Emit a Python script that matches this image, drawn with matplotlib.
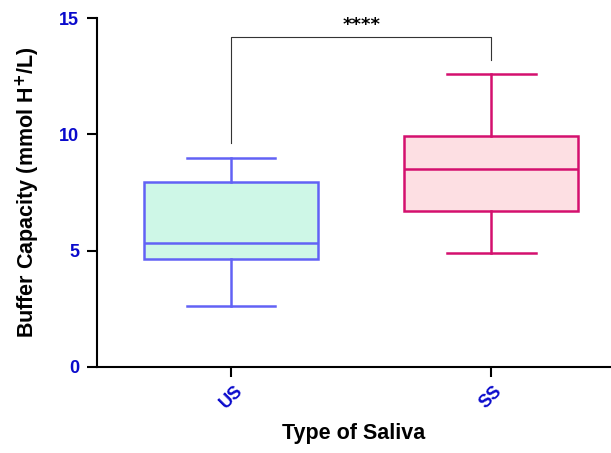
import matplotlib
matplotlib.use("Agg")
import matplotlib.pyplot as plt

plt.rcParams["font.family"] = ["Liberation Sans", "DejaVu Sans"]

# Data (box summaries)
groups = ["US", "SS"]
whislo = [2.6, 4.9]
q1 = [4.65, 6.7]
medians = [5.35, 8.5]
q3 = [7.95, 9.93]
whishi = [9.0, 12.6]

edge_colors = ["#6262F5", "#D4106E"]
face_colors = ["#CEF7E7", "#FDDFE3"]
tick_color = "#0A0ACC"

fig = plt.figure(figsize=(6.11, 4.53), dpi=100)
ax = fig.add_axes([0.159, 0.19, 0.841, 0.77])

stats = []
for i, g in enumerate(groups):
    stats.append({"label": g, "whislo": whislo[i], "q1": q1[i], "med": medians[i],
                  "q3": q3[i], "whishi": whishi[i], "fliers": []})

positions = [1, 2]
for i in range(len(groups)):
    c = edge_colors[i]
    ax.bxp([stats[i]], positions=[positions[i]], widths=0.67, patch_artist=True,
           showfliers=False,
           boxprops=dict(facecolor=face_colors[i], edgecolor=c, linewidth=1.8),
           medianprops=dict(color=c, linewidth=1.8),
           whiskerprops=dict(color=c, linewidth=1.8),
           capprops=dict(color=c, linewidth=1.8),
           capwidths=0.34)

# significance bracket
y_top = 14.18
ax.plot([1, 1, 2, 2], [9.63, y_top, y_top, 13.19], color="#333333", lw=0.8,
        clip_on=False)
ax.text(1.5, y_top + 0.12, "****", ha="center", va="bottom", fontsize=13,
        fontweight="bold", family="DejaVu Sans", color="black")

ax.set_xlim(0.485, 2.46)
ax.set_ylim(0, 15)
ax.set_yticks([0, 5, 10, 15])
ax.set_xticks(positions)
ax.set_xticklabels(groups, rotation=45, ha="center", fontsize=13,
                   fontweight="bold", color=tick_color)
for lab in ax.get_yticklabels():
    lab.set_fontweight("bold")
    lab.set_color(tick_color)
    lab.set_fontsize(13)

ax.tick_params(axis="both", direction="out", length=7, width=1.5)
ax.tick_params(axis="y", pad=6)
ax.tick_params(axis="x", pad=4)
ax.spines["top"].set_visible(False)
ax.spines["right"].set_visible(False)
ax.spines["left"].set_linewidth(1.5)
ax.spines["bottom"].set_linewidth(1.5)

ax.set_ylabel("Buffer Capacity (mmol H$^{\\mathbf{+}}$/L)", fontsize=15.5,
              fontweight="bold", labelpad=12)
ax.set_xlabel("Type of Saliva", fontsize=15.5, fontweight="bold", labelpad=8)

fig.savefig("out.png", dpi=100)
